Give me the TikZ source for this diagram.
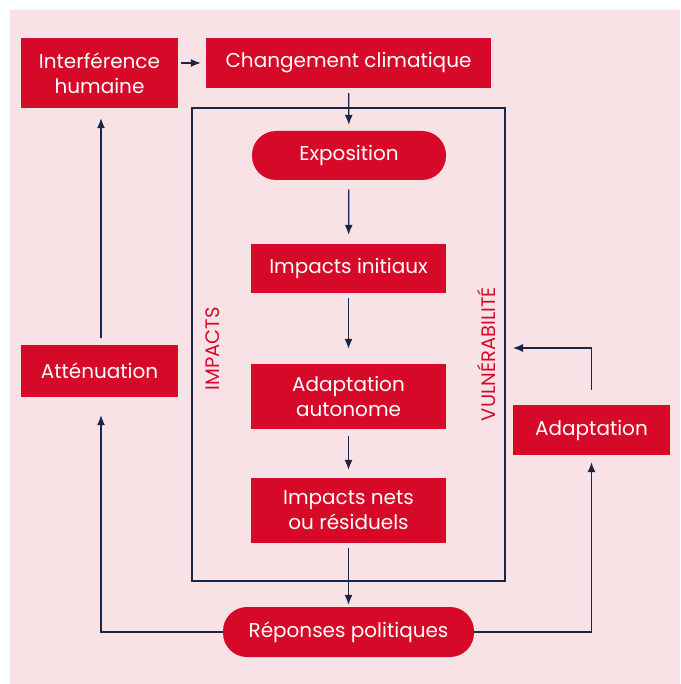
\documentclass[tikz,border=0pt]{standalone}
\usepackage{fontspec}
\setmainfont{Poppins}
\usetikzlibrary{arrows.meta}

\definecolor{rougeboite}{RGB}{214,9,40}
\definecolor{fondrose}{RGB}{249,226,230}
\definecolor{traitbleu}{RGB}{25,38,72}

\begin{document}
\begin{tikzpicture}[x = 1pt, y = -1pt, > = {Latex[length=10pt, width=8pt]},
	boite/.style = {fill = rougeboite, text = white, align = center, inner sep = 0pt,
		font = \fontsize{20}{25}\selectfont},
	pilule/.style = {boite, rounded corners = 24pt},
	fleche/.style = {traitbleu, line width = 1.2pt, ->},
	etiquette/.style = {text = rougeboite, rotate = 90, inner sep = 0pt,
		font = \fontsize{19.5}{22}\selectfont}]

	% Background
	
	\useasboundingbox (0, 0) rectangle (680, 684);
	\fill [fondrose] (10, 10) rectangle (680, 684);

	% Frame round the impacts
	
	\node [draw = traitbleu, line width = 1.2pt, minimum width = 313pt, minimum height = 473pt,
		inner sep = 0pt] (cadre) at (348.5, 344.5) {};
	\node [etiquette] (impacts) at (213, 349) {IMPACTS};
	\node [etiquette] (vulnerabilite) at (487, 354) {VULNÉRABILITÉ};

	% Boxes
	
	\node [boite, minimum width = 157pt, minimum height = 70pt] (interference) at (99.5, 73) {Interférence\\humaine};
	\node [boite, minimum width = 285pt, minimum height = 50pt] (changement) at (348.5, 63) {Changement climatique};
	\node [pilule, minimum width = 194pt, minimum height = 49pt] (exposition) at (349, 155.5) {Exposition};
	\node [boite, minimum width = 195pt, minimum height = 49pt] (initiaux) at (348.5, 268.5) {Impacts initiaux};
	\node [boite, minimum width = 195pt, minimum height = 65pt] (autonome) at (348.5, 396.5) {Adaptation\\autonome};
	\node [boite, minimum width = 195pt, minimum height = 65pt] (residuels) at (348.5, 510.5) {Impacts nets\\ou résiduels};
	\node [pilule, minimum width = 251pt, minimum height = 50pt] (reponses) at (348.5, 632) {Réponses politiques};
	\node [boite, minimum width = 157pt, minimum height = 52pt] (attenuation) at (99.5, 371) {Atténuation};
	\node [boite, minimum width = 157pt, minimum height = 50pt] (adaptation) at (591.5, 430) {Adaptation};
	
	% Arrows down the middle
	
	\draw [fleche, shorten <= 3pt, shorten >= 5pt] (interference.east |- changement.west) -- (changement.west);
	\draw [fleche, shorten <= 5pt, shorten >= 6pt] (changement) -- (exposition);
	\draw [fleche, shorten <= 9pt, shorten >= 9pt] (exposition) -- (initiaux);
	\draw [fleche, shorten <= 5pt, shorten >= 15pt] (initiaux) -- (autonome);
	\draw [fleche, shorten <= 7pt, shorten >= 8pt] (autonome) -- (residuels);
	\draw [fleche, shorten <= 5pt, shorten >= 2pt] (residuels) -- (reponses);
	
	% Loops back from the policy responses
	
	\coordinate (pointe) at (513, 348);
	\draw [fleche, shorten >= 18pt] (reponses.west) -| ([xshift = 1.5pt] attenuation.south);
	\draw [fleche, shorten <= 7pt, shorten >= 10pt] ([xshift = 1.5pt] attenuation.north) -- ([xshift = 1.5pt] interference.south);
	\draw [fleche, shorten >= 7pt] (reponses.east) -| (adaptation.south);
	\draw [fleche, shorten <= 15pt] (adaptation.north) |- (pointe);

\end{tikzpicture}
\end{document}
